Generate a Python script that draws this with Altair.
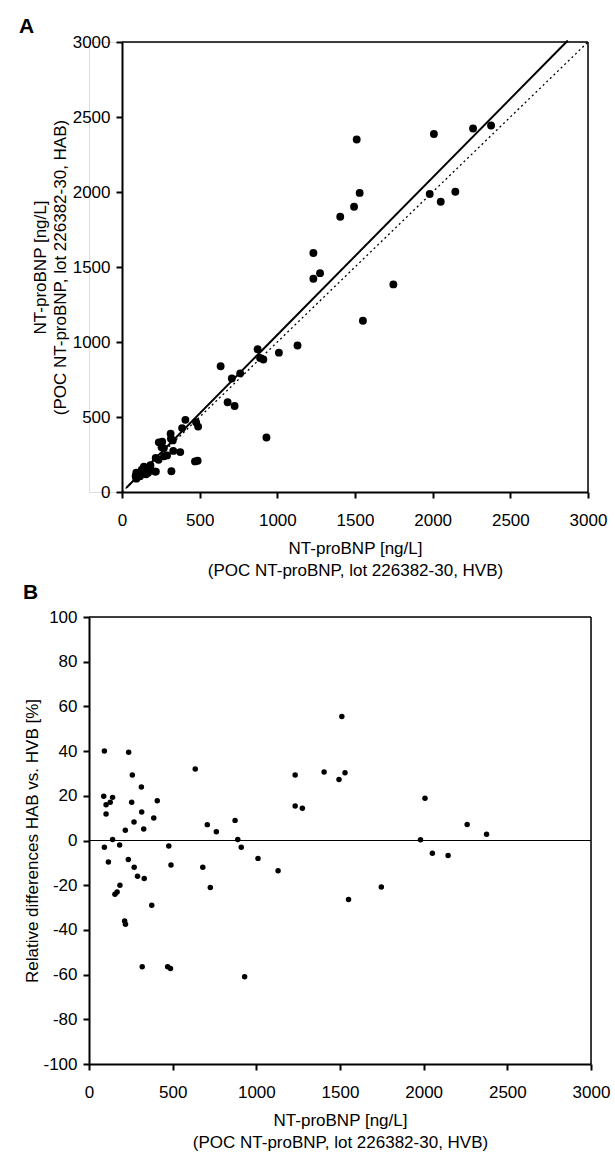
import altair as alt
import pandas as pd

# ---- data ----
hvb = [92, 237, 259, 313, 88, 141, 127, 102, 102, 255, 408, 315, 387, 269, 217, 327,
       141, 92, 116, 183, 235, 270, 290, 330, 155, 168, 185, 213, 218, 375, 318, 470,
       487, 477, 490, 635, 680, 707, 725, 761, 873, 889, 910, 930, 1010, 1130, 1232,
       1232, 1275, 1405, 1494, 1511, 1530, 1551, 1747, 1981, 2008, 2052, 2146, 2260, 2376]
hab = [129, 331, 335, 388, 105, 168, 149, 118, 114, 299, 481, 355, 426, 291, 227, 344,
       142, 89, 105, 179, 215, 238, 244, 274, 118, 129, 148, 136, 136, 266, 138, 204,
       208, 465, 436, 838, 598, 757, 573, 791, 952, 893, 883, 363, 929, 977, 1593,
       1422, 1459, 1835, 1902, 2350, 1994, 1142, 1384, 1987, 2387, 1935, 2002, 2423, 2443]
rel_diff = [40, 39.5, 29.3, 23.9, 19.8, 19.3, 17.1, 16, 11.9, 17.1, 17.8, 12.8, 10.1, 8.3,
            4.6, 5.1, 0.4, -3, -9.6, -2, -8.5, -12, -16, -17, -24, -23, -20, -36, -37.5,
            -29, -56.5, -56.5, -57.3, -2.5, -11, 32, -12, 7.1, -21, 3.9, 9.0, 0.4, -3, -61,
            -8, -13.5, 29.3, 15.4, 14.4, 30.6, 27.3, 55.5, 30.3, -26.4, -20.8, 0.3, 18.9,
            -5.7, -6.7, 7.2, 2.8]

identity_x = [0, 3000]
identity_y = [0, 3000]
fit_x = [30, 2870]
fit_y = [30, 3010]
zero_x = [0, 3000]
zero_y = [0, 0]

x_domain = [0, 3000]
a_y_domain = [0, 3000]
b_y_domain = [-100, 100]

x_ticks = [0, 500, 1000, 1500, 2000, 2500, 3000]
a_y_ticks = [0, 500, 1000, 1500, 2000, 2500, 3000]
b_y_ticks = [-100, -80, -60, -40, -20, 0, 20, 40, 60, 80, 100]

x_title = ["NT-proBNP [ng/L]", "(POC NT-proBNP, lot 226382-30, HVB)"]
a_y_title = ["NT-proBNP [ng/L]", "(POC NT-proBNP, lot 226382-30, HAB)"]
b_y_title = "Relative differences HAB vs. HVB [%]"

FONT = "Liberation Sans"
pts = pd.DataFrame({"hvb": hvb, "hab": hab, "diff": rel_diff})
ident = pd.DataFrame({"x": identity_x, "y": identity_y})
fit = pd.DataFrame({"x": fit_x, "y": fit_y})
zero = pd.DataFrame({"x": zero_x, "y": zero_y})
one = pd.DataFrame({"t": [0]})
a_frame = pd.DataFrame({"x1": [x_domain[0], x_domain[1]], "x2": [x_domain[1], x_domain[1]],
                        "y1": [a_y_domain[1], a_y_domain[0]], "y2": [a_y_domain[1], a_y_domain[1]]})
b_frame = pd.DataFrame({"x1": [x_domain[0], x_domain[1]], "x2": [x_domain[1], x_domain[1]],
                        "y1": [b_y_domain[1], b_y_domain[0]], "y2": [b_y_domain[1], b_y_domain[1]]})


def axis(values, title, **kw):
    return alt.Axis(values=values, title=title, grid=False, domainColor="black",
                    domainWidth=2, tickColor="black", tickWidth=2, tickSize=6,
                    labelFont=FONT, labelFontSize=17, labelColor="black",
                    labelExpr="'' + datum.value",
                    titleFont=FONT, titleFontSize=17, titleFontWeight="normal",
                    titleColor="black", labelFlush=False, labelOverlap=False, **kw)


# ---- panel A (plot area starts 33 px right of panel B's) ----
xs_a = alt.Scale(domain=x_domain, range=[33, 499], nice=False)
ys_a = alt.Scale(domain=a_y_domain, nice=False)

a_points = alt.Chart(pts).mark_circle(color="black", size=62, opacity=1).encode(
    x=alt.X("hvb:Q", scale=xs_a,
            axis=axis(x_ticks, x_title, labelPadding=14, titlePadding=12, titleLineHeight=22,
                      titleX=266, titleAlign="center")),
    y=alt.Y("hab:Q", scale=ys_a,
            axis=axis(a_y_ticks, a_y_title, labelPadding=6, titlePadding=3, titleLineHeight=20,
                      offset=-33)),
)
a_ident = alt.Chart(ident).mark_line(color="black", strokeWidth=1.3, strokeDash=[2, 3]).encode(
    x=alt.X("x:Q", scale=xs_a), y=alt.Y("y:Q", scale=ys_a))
a_fit = alt.Chart(fit).mark_line(color="black", strokeWidth=2).encode(
    x=alt.X("x:Q", scale=xs_a), y=alt.Y("y:Q", scale=ys_a))
a_border = alt.Chart(a_frame).mark_rule(color="black", strokeWidth=1.5).encode(
    x=alt.X("x1:Q", scale=xs_a), x2="x2:Q", y=alt.Y("y1:Q", scale=ys_a), y2="y2:Q")
a_label = alt.Chart(one).mark_text(text="A", font=FONT, fontSize=21, fontWeight="bold",
                                   align="left", baseline="top", color="black").encode(
    x=alt.value(-70), y=alt.value(-26))
a_anchor = alt.Chart(one).mark_rule(opacity=0, strokeWidth=1).encode(
    x=alt.value(-77), y=alt.value(-35), y2=alt.value(545))

panel_a = alt.layer(a_points, a_ident, a_fit, a_border, a_label, a_anchor).properties(
    width=499, height=450)

# ---- panel B ----
xs_b = alt.Scale(domain=x_domain, nice=False)
ys_b = alt.Scale(domain=b_y_domain, nice=False)

b_points = alt.Chart(pts).mark_circle(color="black", size=30, opacity=1).encode(
    x=alt.X("hvb:Q", scale=xs_b,
            axis=axis(x_ticks, x_title, labelPadding=14, titlePadding=12, titleLineHeight=22)),
    y=alt.Y("diff:Q", scale=ys_b,
            axis=axis(b_y_ticks, b_y_title, labelPadding=6, titlePadding=1)),
)
b_zero = alt.Chart(zero).mark_line(color="black", strokeWidth=1).encode(
    x=alt.X("x:Q", scale=xs_b), y=alt.Y("y:Q", scale=ys_b))
b_border = alt.Chart(b_frame).mark_rule(color="black", strokeWidth=1.5).encode(
    x=alt.X("x1:Q", scale=xs_b), x2="x2:Q", y=alt.Y("y1:Q", scale=ys_b), y2="y2:Q")
b_label = alt.Chart(one).mark_text(text="B", font=FONT, fontSize=21, fontWeight="bold",
                                   align="left", baseline="top", color="black").encode(
    x=alt.value(-66), y=alt.value(-35))
b_anchor = alt.Chart(one).mark_rule(opacity=0, strokeWidth=1).encode(
    x=alt.value(-77), y=alt.value(-40), y2=alt.value(400))

panel_b = alt.layer(b_points, b_zero, b_border, b_label, b_anchor).properties(
    width=502, height=447)

chart = alt.vconcat(panel_a, panel_b, spacing=-12).properties(
    padding={"left": 11, "top": 6, "right": 0, "bottom": 0}
).configure_view(strokeWidth=0).configure(background="white")

chart.save("out.html", embed_options={"renderer": "svg", "actions": False})
